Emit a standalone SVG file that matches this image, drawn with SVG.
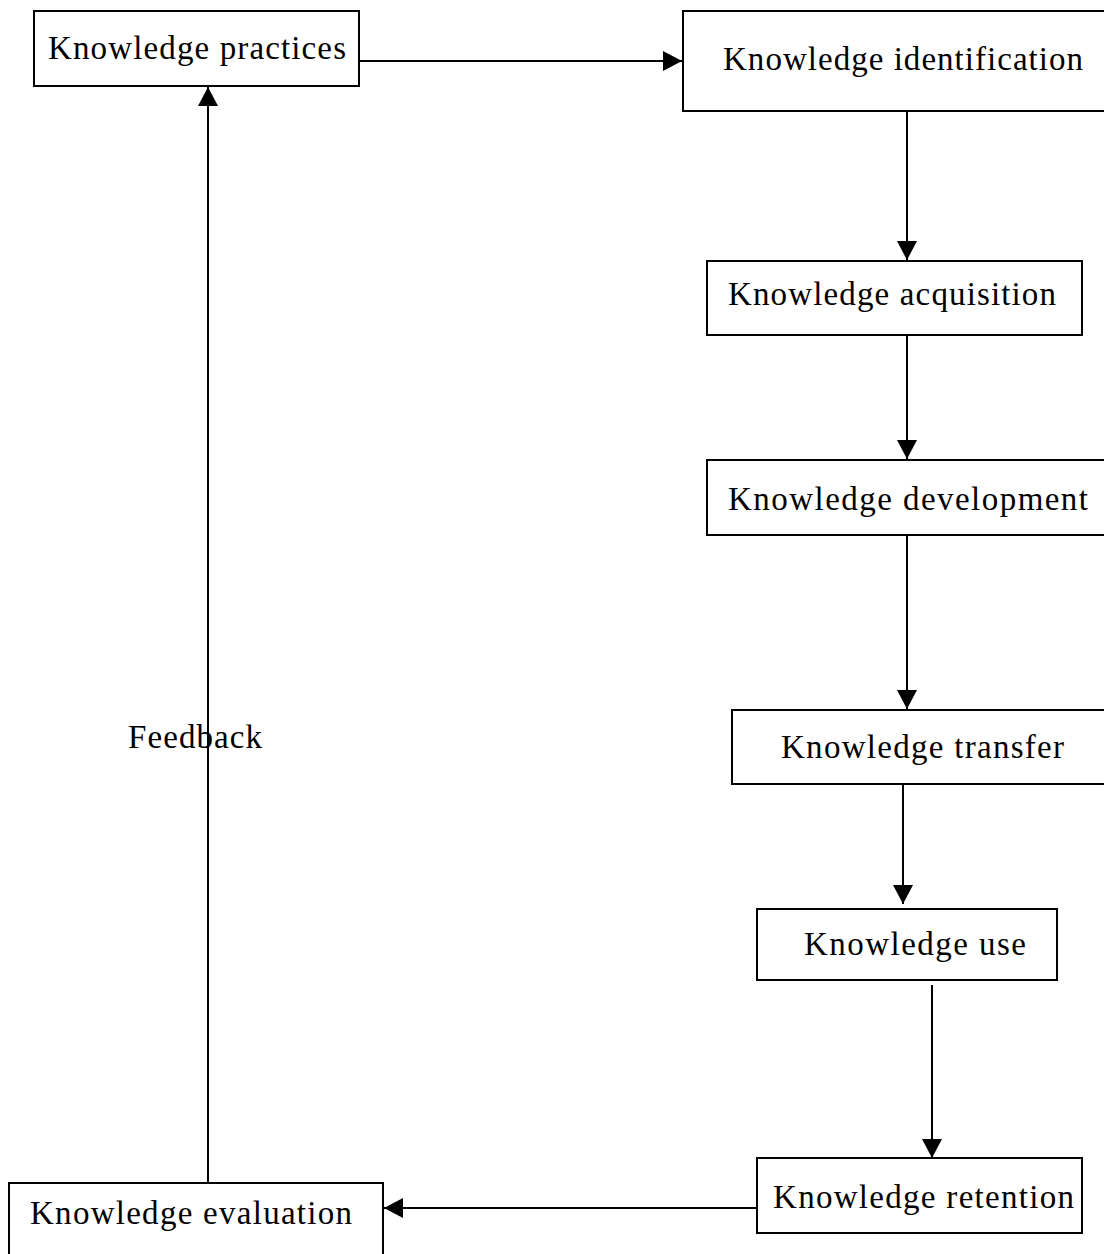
<svg xmlns="http://www.w3.org/2000/svg" width="1104" height="1254" viewBox="0 0 1104 1254">
<style>
.box{fill:#fff;stroke:#000;stroke-width:2}
.t{font-family:"Liberation Serif","DejaVu Serif",serif;font-size:33px;fill:#000}
.c{stroke:#000;stroke-width:2;fill:none}
</style>
<defs>
<marker id="ah" markerWidth="19" markerHeight="20" refX="19" refY="10" orient="auto" markerUnits="userSpaceOnUse">
<path d="M0,0 L19,10 L0,20 Z" fill="#000"/>
</marker>
</defs>
<rect width="1104" height="1254" fill="#fff"/>
<g id="connectors">
<line class="c" x1="359" y1="61" x2="682" y2="61" marker-end="url(#ah)"/>
<line class="c" x1="907" y1="111" x2="907" y2="260" marker-end="url(#ah)"/>
<line class="c" x1="907" y1="335" x2="907" y2="459" marker-end="url(#ah)"/>
<line class="c" x1="907" y1="535" x2="907" y2="709" marker-end="url(#ah)"/>
<line class="c" x1="903" y1="784" x2="903" y2="904" marker-end="url(#ah)"/>
<line class="c" x1="932" y1="985" x2="932" y2="1158" marker-end="url(#ah)"/>
<line class="c" x1="757" y1="1208" x2="384" y2="1208" marker-end="url(#ah)"/>
<line class="c" x1="208" y1="1183" x2="208" y2="87" marker-end="url(#ah)"/>
</g>
<g id="n-practices"><rect class="box" x="34" y="11" width="325" height="75"/><text class="t" x="48" y="59" textLength="298">Knowledge practices</text></g>
<g id="n-identification"><rect class="box" x="683" y="11" width="440" height="100"/><text class="t" x="723" y="70" textLength="360">Knowledge identification</text></g>
<g id="n-acquisition"><rect class="box" x="707" y="261" width="375" height="74"/><text class="t" x="728" y="305" textLength="328">Knowledge acquisition</text></g>
<g id="n-development"><rect class="box" x="707" y="460" width="420" height="75"/><text class="t" x="728" y="510" textLength="360">Knowledge development</text></g>
<g id="n-transfer"><rect class="box" x="732" y="710" width="400" height="74"/><text class="t" x="781" y="758" textLength="283">Knowledge transfer</text></g>
<g id="n-use"><rect class="box" x="757" y="909" width="300" height="71"/><text class="t" x="804" y="955" textLength="222">Knowledge use</text></g>
<g id="n-retention"><rect class="box" x="757" y="1158" width="325" height="75"/><text class="t" x="773" y="1208" textLength="301">Knowledge retention</text></g>
<g id="n-evaluation"><rect class="box" x="9" y="1183" width="374" height="90"/><text class="t" x="30" y="1224" textLength="322">Knowledge evaluation</text></g>
<g id="l-feedback"><text class="t" x="128" y="748" textLength="134">Feedback</text></g>
</svg>
